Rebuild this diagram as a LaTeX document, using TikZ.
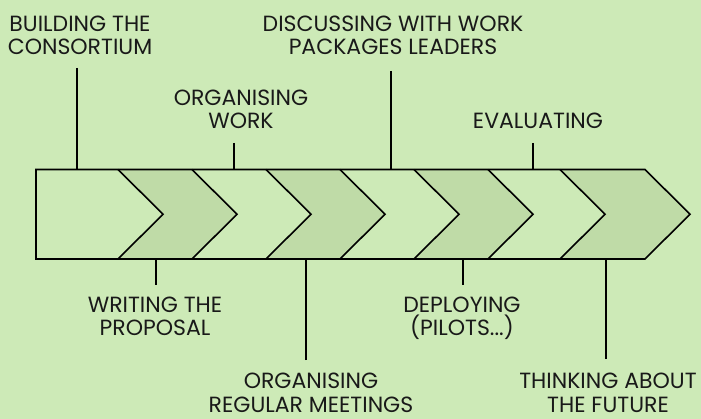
\documentclass[tikz,border=0pt]{standalone}
\usepackage{fontspec}
\setmainfont{Poppins}
\definecolor{bg}{HTML}{CDEAB7}
\definecolor{dk}{HTML}{BFDBA7}
\tikzset{
  lbl/.style={align=center, inner sep=0pt, text depth=0pt, font=\fontsize{22}{23.5}\selectfont, text=black!90},
  tick/.style={line width=1.6pt, black},
  edge/.style={line width=1.6pt, black, line join=miter},
}
\begin{document}
\begin{tikzpicture}[x=1pt,y=-1pt]
\fill[bg] (0,0) rectangle (701,419);
\useasboundingbox (0,0) rectangle (701,419);
% bar
\def\T{169.5}\def\B{259}\def\M{214.25}
\fill[bg] (36,\T) -- (645,\T) -- (690,\M) -- (645,\B) -- (36,\B) -- cycle;
\foreach \a/\b in {118/192, 266/340, 414/488, 560/645}{
  \fill[dk] (\a,\T) -- (\b,\T) -- ({\b+45},\M) -- (\b,\B) -- (\a,\B) -- ({\a+45},\M) -- cycle;
}
\foreach \a in {118,192,266,340,414,488,560}{
  \draw[edge] (\a,\T) -- ({\a+45},\M) -- (\a,\B);
}
\draw[edge] (36,\T) -- (645,\T) -- (690,\M) -- (645,\B) -- (36,\B) -- cycle;
% labels (anchor = baseline of last line)
\node[lbl, anchor=base] (l1) at (80,55) {BUILDING THE\\CONSORTIUM};
\node[lbl, anchor=base] (l2) at (393,55) {DISCUSSING WITH WORK\\PACKAGES LEADERS};
\node[lbl, anchor=base] (l3) at (241,129) {ORGANISING\\WORK};
\node[lbl, anchor=base] (l4) at (538,129) {EVALUATING};
\node[lbl, anchor=base] (l5) at (155,336) {WRITING THE\\PROPOSAL};
\node[lbl, anchor=base] (l6) at (462,336) {DEPLOYING\\(PILOTS...)};
\node[lbl, anchor=base] (l7) at (311,412) {ORGANISING\\REGULAR MEETINGS};
\node[lbl, anchor=base] (l8) at (608,412) {THINKING ABOUT\\THE FUTURE};
% bar points
\coordinate (b1) at (77,\T);  \coordinate (e1) at (77,68);
\coordinate (b2) at (391,\T); \coordinate (e2) at (391,71);
\coordinate (b3) at (234,\T); \coordinate (e3) at (234,143);
\coordinate (b4) at (533,\T); \coordinate (e4) at (533,143);
\coordinate (b5) at (156,\B); \coordinate (e5) at (156,285);
\coordinate (b6) at (463,\B); \coordinate (e6) at (463,285);
\coordinate (b7) at (306,\B); \coordinate (e7) at (306,360);
\coordinate (b8) at (606,\B); \coordinate (e8) at (606,359);
\foreach \i in {1,...,8}{ \draw[tick] (e\i) -- (b\i); }
\end{tikzpicture}
\end{document}
